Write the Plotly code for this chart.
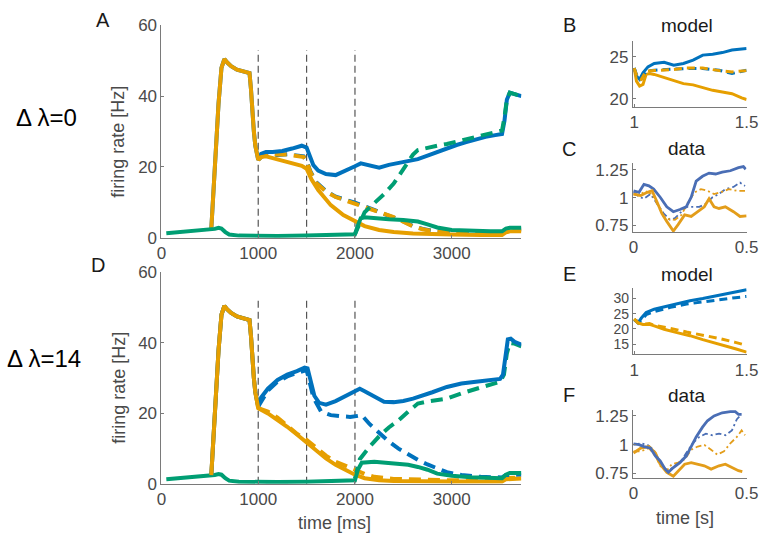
import plotly.graph_objects as go

# colours
BLUE = "#0072BD"
ORANGE = "#E69F00"
GREEN = "#009E73"
BLUE_D = "#4A6EB5"
ORANGE_D = "#E39D1A"

# shared stimulus response before 1000 ms (orange / blue overlap)
stim_t = [515, 530, 560, 590, 620, 650, 680, 720, 780, 840, 910, 925, 940, 955, 970, 985, 1000]
stim_rate = [2.5, 10, 25, 38, 48, 50.5, 49.5, 48.5, 47.5, 47, 46.5, 42, 35, 30, 26, 23.5, 22]

green_pre_t = [50, 150, 300, 450, 550, 590, 620, 660, 700, 800, 1000, 1200, 1500, 1800, 1950, 2000]
green_pre = [1.3, 1.5, 1.9, 2.3, 2.5, 2.8, 2.6, 1.6, 0.9, 0.6, 0.5, 0.5, 0.6, 0.8, 1.0, 1.0]

event_times = [1000, 1500, 2000]
event_top = 53

# panel A (delta lambda = 0)
a_blue_t = [1000, 1030, 1080, 1150, 1250, 1350, 1450, 1500, 1530, 1570, 1620, 1700, 1800, 1900, 2000,
            2060, 2150, 2250, 2350, 2450, 2550, 2650, 2750, 2850, 2950, 3050, 3150, 3250, 3350, 3450,
            3520, 3545, 3570, 3600, 3650, 3720]
a_blue = [22, 23.7, 24.2, 24.2, 24.5, 25.2, 26, 25.5, 23, 20.5, 19, 18, 17.7, 18.8, 20.2,
          21, 20.5, 19.8, 20.6, 21.2, 21.6, 22.2, 23.2, 24.3, 25.3, 26.2, 27, 27.8, 28.5, 29,
          29.3, 33, 39, 41, 40.5, 40]
a_orange_t = [1000, 1030, 1080, 1150, 1250, 1350, 1450, 1500, 1550, 1620, 1750, 1880, 2000, 2100,
              2250, 2400, 2600, 2800, 3000, 3300, 3520, 3560, 3600, 3720]
a_orange = [22, 22.8, 23, 22.5, 21.8, 21, 20.3, 19.5, 16.5, 13.5, 9.2, 6.4, 4.6, 3.3,
            2.2, 1.6, 1.2, 1.0, 0.9, 0.8, 0.8, 1.5, 1.8, 1.8]
a_green_t = [2000, 2030, 2060, 2100, 2200, 2350, 2500, 2650, 2750, 2850, 3000, 3200, 3400, 3520,
             3560, 3600, 3720]
a_green = [1.0, 3.5, 5.5, 5.8, 5.5, 5.2, 5.0, 4.6, 3.8, 2.9, 2.2, 1.9, 1.8, 1.8, 2.6, 2.8, 2.8]
a_mod_t = [1000, 1050, 1100, 1200, 1300, 1400, 1470, 1500, 1540, 1600, 1700, 1800, 1900, 2000, 2100,
           2200, 2300, 2400, 2500, 2600, 2700, 2800, 3000, 3300, 3520, 3560, 3720]
a_orange_mod = [22, 23.5, 23.8, 23.5, 23.5, 23.2, 22.8, 21.5, 18.5, 15.5, 13, 11.5, 10.5, 9.8, 8.8,
                7.8, 6.8, 5.8, 4.5, 3.2, 2.4, 1.9, 1.5, 1.3, 1.3, 2, 2.3]
a_blue_mod = [22, 23.3, 23.6, 23.4, 23.6, 23.4, 23, 21.8, 18.7, 15.7, 13.2, 11.6, 10.6, 9.9, 8.9,
              7.9, 6.9, 5.9, 4.6, 3.3, 2.5, 2.0, 1.6, 1.4, 1.4, 2.1, 2.4]
a_green_mod_t = [2000, 2050, 2100, 2200, 2300, 2400, 2500, 2600, 2650, 2750, 2850, 2950, 3100, 3250,
                 3400, 3520, 3545, 3570, 3600, 3650, 3720]
a_green_mod = [1.0, 4, 7.2, 9.8, 12.3, 15.3, 19.5, 23.5, 24.8, 25.5, 26, 26.5, 27.5, 28.5,
               29.5, 30.3, 34, 39, 41, 40.5, 40]

# panel D (delta lambda = 14)
d_blue_t = [1000, 1030, 1100, 1200, 1300, 1400, 1480, 1510, 1540, 1580, 1630, 1700, 1800, 1900, 2000,
            2050, 2100, 2200, 2300, 2400, 2500, 2600, 2700, 2800, 2950, 3100, 3250, 3400, 3500, 3530,
            3555, 3580, 3610, 3650, 3720]
d_blue = [22, 24.5, 27, 29.5, 31, 32, 33, 32.8, 29, 25, 23, 22.5, 23.5, 25, 26.3,
          27, 26.3, 24.8, 23.3, 23.2, 23.5, 24.2, 25, 26, 27.5, 28.5, 29, 29.6, 29.8, 31,
          37, 41, 41.2, 40.3, 39.5]
d_orange_t = [1000, 1100, 1200, 1300, 1400, 1500, 1600, 1700, 1800, 1900, 2000, 2100, 2250, 2400,
              2600, 3000, 3300, 3520, 3560, 3720]
d_orange = [21.5, 20, 18.2, 16.2, 14, 11.8, 9.3, 7.2, 5.4, 3.9, 2.6, 1.6, 1.0, 0.8,
            0.7, 0.7, 0.7, 0.7, 1.3, 1.5]
d_green_t = [2000, 2030, 2070, 2200, 2400, 2550, 2650, 2750, 2850, 3000, 3200, 3400, 3520, 3560,
             3600, 3720]
d_green = [1.0, 4, 6, 6.3, 5.8, 5.4, 4.8, 4.0, 2.9, 2.3, 1.9, 1.7, 1.6, 2.6, 3.1, 3.1]
d_orange_mod_t = [1000, 1100, 1200, 1300, 1400, 1500, 1600, 1700, 1800, 1900, 2000, 2100, 2200, 2400,
                  2700, 3000, 3520, 3560, 3720]
d_orange_mod = [21.5, 20.5, 18.8, 16.6, 14.2, 12.5, 10.2, 8, 6.3, 5, 4, 2.8, 2, 1.4,
                1.1, 1, 1, 1.6, 1.8]
d_blue_mod_t = [1000, 1100, 1200, 1300, 1400, 1500, 1530, 1570, 1650, 1750, 1850, 1950, 2030, 2070,
                2150, 2250, 2350, 2450, 2550, 2650, 2750, 2850, 2950, 3100, 3300, 3520, 3560, 3720]
d_blue_mod = [22, 26.5, 29, 30.5, 31.5, 32.3, 29, 24.5, 20.5, 19.5, 19.2, 19, 19.3, 19.5,
              17, 14.5, 12, 10, 8.3, 6.8, 5.5, 4.3, 3.3, 2.5, 2, 1.8, 2.5, 2.6]
d_green_mod_t = [2000, 2050, 2150, 2250, 2350, 2450, 2550, 2650, 2750, 2850, 2950, 3100, 3250, 3400,
                 3500, 3540, 3570, 3600, 3650, 3720]
d_green_mod = [1.5, 7, 10.5, 13.5, 16, 18, 20.5, 22.8, 23.4, 23.7, 24.2, 25.7, 27, 28.3,
               29, 31, 37, 40, 39.8, 39]

# panel B (model, zoom 1-1.5 s, delta lambda = 0)
b_blue_t = [1.0, 1.01, 1.024, 1.039, 1.061, 1.089, 1.133, 1.176, 1.219, 1.262, 1.305, 1.349, 1.392, 1.435, 1.5]
b_blue = [23.65, 22.7, 22.3, 23.1, 23.8, 24.2, 24.35, 24.0, 24.2, 24.6, 25.2, 25.3, 25.5, 25.8, 26.0]
b_orange_t = [1.0, 1.01, 1.024, 1.039, 1.053, 1.068, 1.089, 1.133, 1.176, 1.219, 1.262, 1.305, 1.349,
              1.392, 1.435, 1.478, 1.5]
b_orange = [23.65, 22.1, 21.5, 21.7, 22.9, 23.0, 22.9, 22.5, 22.1, 21.8, 21.65, 21.35, 21.0,
            20.8, 20.6, 20.1, 19.9]
b_mod_t = [1.0, 1.014, 1.032, 1.053, 1.089, 1.161, 1.233, 1.305, 1.378, 1.435, 1.5]
b_orange_mod = [23.65, 22.5, 22.3, 23.3, 23.35, 23.45, 23.65, 23.65, 23.35, 23.2, 23.35]
b_blue_mod = [23.65, 22.6, 22.4, 23.3, 23.4, 23.5, 23.6, 23.6, 23.4, 23.0, 23.4]

# panel E (model, delta lambda = 14)
e_blue_t = [1.0, 1.017, 1.032, 1.053, 1.089, 1.133, 1.19, 1.248, 1.305, 1.378, 1.442, 1.5]
e_blue = [23.1, 22.0, 23.6, 25.4, 26.5, 27.3, 28.2, 29.3, 30, 31.1, 32.1, 32.9]
e_blue_mod_t = [1.0, 1.024, 1.053, 1.089, 1.161, 1.233, 1.305, 1.378, 1.45, 1.5]
e_blue_mod = [23.1, 22.2, 24.7, 25.7, 27.1, 28.2, 28.9, 29.7, 30.3, 30.7]
e_orange_t = [1.0, 1.017, 1.039, 1.068, 1.089, 1.133, 1.19, 1.248, 1.305, 1.378, 1.45, 1.5]
e_orange = [23.3, 22.0, 21.5, 21.5, 21.0, 19.9, 18.8, 17.8, 16.5, 15.1, 13.5, 12.4]
e_orange_mod_t = [1.0, 1.017, 1.039, 1.068, 1.089, 1.15, 1.233, 1.305, 1.378, 1.45, 1.5]
e_orange_mod = [23.3, 22.0, 21.5, 21.8, 21.2, 20.4, 19.0, 18.0, 16.9, 15.6, 14.6]

# panel C (data, delta lambda = 0)
c_blue_t = [0, 0.024, 0.046, 0.068, 0.089, 0.118, 0.147, 0.176, 0.205, 0.233, 0.255, 0.277, 0.305,
            0.334, 0.363, 0.392, 0.428, 0.464, 0.486, 0.496]
c_blue = [1.062, 1.048, 1.12, 1.106, 1.077, 1.004, 0.918, 0.874, 0.894, 0.918, 1.004, 1.149, 1.192,
          1.221, 1.213, 1.23, 1.242, 1.27, 1.279, 1.256]
c_orange_t = [0, 0.032, 0.061, 0.082, 0.104, 0.125, 0.147, 0.176, 0.197, 0.226, 0.255, 0.284, 0.313,
              0.334, 0.356, 0.378, 0.406, 0.442, 0.471, 0.5]
c_orange = [1.033, 1.019, 1.048, 1.062, 0.961, 0.86, 0.787, 0.70, 0.758, 0.845, 0.831, 0.874, 0.918,
            0.99, 0.918, 0.903, 0.918, 0.874, 0.831, 0.836]
c_blue_mod_t = [0, 0.024, 0.046, 0.075, 0.104, 0.133, 0.161, 0.183, 0.205, 0.233, 0.262, 0.291, 0.32,
                0.349, 0.378, 0.406, 0.442, 0.471, 0.493]
c_blue_mod = [1.048, 1.01, 0.99, 1.033, 0.946, 0.86, 0.802, 0.816, 0.86, 0.918, 0.918, 0.918, 0.946,
              1.004, 1.033, 1.077, 1.097, 1.135, 1.106]
c_orange_mod_t = [0, 0.024, 0.053, 0.082, 0.111, 0.133, 0.154, 0.183, 0.212, 0.241, 0.27, 0.298,
                  0.327, 0.356, 0.385, 0.421, 0.457, 0.493]
c_orange_mod = [1.033, 1.02, 1.06, 1.033, 0.918, 0.83, 0.808, 0.8, 0.845, 0.96, 1.048, 1.077,
                1.062, 1.033, 1.048, 1.077, 1.062, 1.062]

# panel F (data, delta lambda = 14)
f_blue_t = [0, 0.024, 0.046, 0.075, 0.097, 0.118, 0.14, 0.154, 0.176, 0.205, 0.233, 0.255, 0.277,
            0.305, 0.327, 0.356, 0.392, 0.428, 0.45, 0.464, 0.478]
f_blue = [1.006, 1.0, 0.983, 0.969, 0.9, 0.857, 0.786, 0.758, 0.8, 0.843, 0.9, 0.983, 1.067,
          1.152, 1.208, 1.25, 1.278, 1.287, 1.287, 1.264, 1.264]
f_blue_mod_t = [0, 0.032, 0.061, 0.089, 0.111, 0.133, 0.154, 0.183, 0.212, 0.233, 0.262, 0.291, 0.32,
                0.349, 0.378, 0.406, 0.435, 0.457, 0.471]
f_blue_mod = [1.0, 1.01, 1.0, 0.955, 0.871, 0.8, 0.772, 0.814, 0.857, 0.927, 1.011, 1.067, 1.096,
              1.082, 1.096, 1.082, 1.124, 1.222, 1.25]
f_orange_t = [0, 0.032, 0.068, 0.097, 0.118, 0.147, 0.176, 0.197, 0.226, 0.255, 0.284, 0.313, 0.343,
              0.378, 0.406, 0.435, 0.464, 0.481]
f_orange = [0.927, 0.969, 0.983, 0.927, 0.829, 0.758, 0.725, 0.772, 0.829, 0.843, 0.829, 0.815, 0.786,
            0.815, 0.829, 0.8, 0.772, 0.764]
f_orange_mod_t = [0, 0.032, 0.068, 0.097, 0.118, 0.147, 0.169, 0.197, 0.226, 0.255, 0.284, 0.313,
                  0.343, 0.37, 0.4, 0.428, 0.457, 0.478, 0.493]
f_orange_mod = [0.941, 0.941, 0.969, 0.9, 0.815, 0.772, 0.829, 0.843, 0.871, 0.955, 0.983, 0.997,
                0.955, 0.913, 0.941, 1.011, 1.067, 1.124, 1.082]

W, H = 772, 545
FONT = "Liberation Sans, Arial, sans-serif"
DASH_BIG = "12px,7px"

fig = go.Figure()


def line(x, y, color, width, dash="solid", ax=""):
    fig.add_trace(go.Scatter(
        x=x, y=y, mode="lines", showlegend=False, hoverinfo="skip",
        line=dict(color=color, width=width, dash=dash),
        xaxis="x" + ax, yaxis="y" + ax,
    ))


def event_lines(ax):
    xs, ys = [], []
    for t in event_times:
        xs += [t, t, None]
        ys += [0, event_top, None]
    fig.add_trace(go.Scatter(
        x=xs, y=ys, mode="lines", showlegend=False, hoverinfo="skip",
        line=dict(color="#555555", width=1.2, dash="7px,4px"),
        xaxis="x" + ax, yaxis="y" + ax,
    ))


# Panel A
event_lines("")
line(a_mod_t, a_blue_mod, BLUE, 4, DASH_BIG)
line(a_mod_t, a_orange_mod, ORANGE, 4, DASH_BIG)
line(stim_t + a_blue_t, stim_rate + a_blue, BLUE, 4)
line(a_green_mod_t, a_green_mod, GREEN, 4, DASH_BIG)
line(stim_t + a_orange_t, stim_rate + a_orange, ORANGE, 4)
line(green_pre_t + a_green_t, green_pre + a_green, GREEN, 4)

# Panel D
event_lines("2")
line(d_orange_mod_t, d_orange_mod, ORANGE, 4, DASH_BIG, "2")
line(d_green_mod_t, d_green_mod, GREEN, 4, DASH_BIG, "2")
line(d_blue_mod_t, d_blue_mod, BLUE, 4, DASH_BIG, "2")
line(stim_t + d_orange_t, stim_rate + d_orange, ORANGE, 4, ax="2")
line(green_pre_t + d_green_t, green_pre + d_green, GREEN, 4, ax="2")
line(stim_t[:-1] + d_blue_t, stim_rate[:-1] + d_blue, BLUE, 4, ax="2")
line(stim_t + d_orange_t[:1], stim_rate + d_orange[:1], ORANGE, 4, ax="2")

# Panel B
line(b_blue_t, b_blue, BLUE, 3, ax="3")
line(b_orange_t, b_orange, ORANGE, 3, ax="3")
line(b_mod_t, b_blue_mod, BLUE, 3, "8px,5px", "3")
line(b_mod_t, b_orange_mod, ORANGE, 3, "8px,5px", "3")

# Panel C
line(c_blue_mod_t, c_blue_mod, BLUE_D, 1.8, "6px,3px,2px,3px", "4")
line(c_orange_mod_t, c_orange_mod, ORANGE_D, 1.8, "6px,3px,2px,3px", "4")
line(c_blue_t, c_blue, BLUE_D, 2.8, ax="4")
line(c_orange_t, c_orange, ORANGE_D, 2.8, ax="4")

# Panel E
line(e_blue_t, e_blue, BLUE, 3, ax="5")
line(e_blue_mod_t, e_blue_mod, BLUE, 3, "8px,5px", "5")
line(e_orange_t, e_orange, ORANGE, 3, ax="5")
line(e_orange_mod_t, e_orange_mod, ORANGE, 3, "8px,5px", "5")

# Panel F
line(f_blue_mod_t, f_blue_mod, BLUE_D, 1.8, "6px,3px,2px,3px", "6")
line(f_orange_mod_t, f_orange_mod, ORANGE_D, 1.8, "6px,3px,2px,3px", "6")
line(f_orange_t, f_orange, ORANGE_D, 2.8, ax="6")
line(f_blue_t, f_blue, BLUE_D, 2.8, ax="6")


def px_x(p):
    return p / W


def px_y(p):
    return 1 - p / H


def axis(domain, rng, tickvals, anchor, size=17):
    return dict(
        domain=domain, range=rng, tickvals=tickvals, showgrid=False, zeroline=False,
        showline=True, linecolor="#7a7a7a", linewidth=1, ticks="inside", ticklen=3,
        tickcolor="#7a7a7a", tickfont=dict(size=size, color="#4a4a4a", family=FONT),
        mirror=False, fixedrange=True, anchor=anchor,
    )


big_x = [px_x(160), px_x(528)]
small_x = [px_x(642), px_x(758.3)]

fig.update_layout(
    width=W, height=H, margin=dict(l=0, r=0, t=0, b=0),
    paper_bgcolor="white", plot_bgcolor="white",
    font=dict(family=FONT, size=17, color="#262626"),
    xaxis=axis(big_x, [0, 3720], [0, 1000, 2000, 3000], "y"),
    yaxis=axis([px_y(237), px_y(17)], [0, 60], [0, 20, 40, 60], "x"),
    xaxis2=axis(big_x, [0, 3720], [0, 1000, 2000, 3000], "y2"),
    yaxis2=axis([px_y(492), px_y(273)], [0, 60], [0, 20, 40, 60], "x2"),
    xaxis3=axis(small_x, [0.994, 1.5], [1, 1.5], "y3"),
    yaxis3=axis([px_y(101.3), px_y(33)], [19.04, 26.9], [20, 25], "x3"),
    xaxis4=axis(small_x, [-0.003, 0.5], [0, 0.5], "y4"),
    yaxis4=axis([px_y(231), px_y(160)], [0.692, 1.308], [0.75, 1, 1.25], "x4"),
    xaxis5=axis(small_x, [0.994, 1.5], [1, 1.5], "y5"),
    yaxis5=axis([px_y(357.7), px_y(289)], [11.7, 33.5], [15, 20, 25, 30], "x5", size=14),
    xaxis6=axis(small_x, [-0.003, 0.5], [0, 0.5], "y6"),
    yaxis6=axis([px_y(486), px_y(415)], [0.708, 1.306], [0.75, 1, 1.25], "x6"),
)


def text(s, x, y, size=18, color="#1a1a1a", angle=0):
    fig.add_annotation(
        text=s, x=px_x(x), y=px_y(y), xref="paper", yref="paper",
        showarrow=False, xanchor="center", yanchor="middle", textangle=angle,
        font=dict(size=size, color=color, family=FONT),
    )


# panel letters and titles
text("A", 100, 11, size=20)
text("D", 95, 265, size=20)
text("B", 577, 17, size=20)
text("C", 577, 145, size=20)
text("E", 577, 275, size=20)
text("F", 577, 400, size=20)
text("model", 697, 17, size=19)
text("data", 697, 145, size=19)
text("model", 697, 275, size=19)
text("data", 697, 400, size=19)

# axis titles
text("firing rate [Hz]", 116, 137, size=18, color="#4a4a4a", angle=-90)
text("firing rate [Hz]", 117, 392, size=18, color="#4a4a4a", angle=-90)
text("time [ms]", 337, 533, size=18, color="#4a4a4a")
text("time [s]", 695, 527, size=18, color="#4a4a4a")

# row labels
text("Δ λ=0", 42, 112, size=24, color="#000000")
text("Δ λ=14", 40, 362, size=24, color="#000000")

fig.write_html(
    "out.html",
    config={"displayModeBar": False},
    post_script="document.body.style.margin='0px';document.body.style.overflow='hidden';",
)
